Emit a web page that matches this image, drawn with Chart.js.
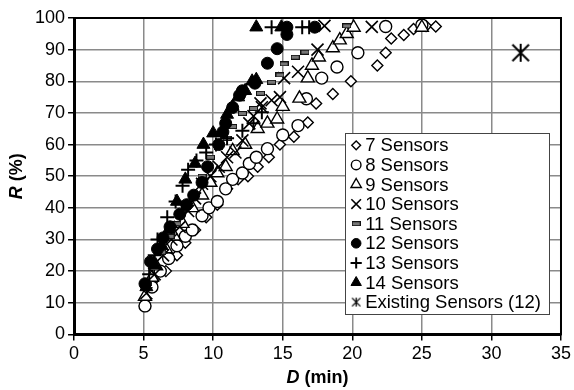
<!DOCTYPE html>
<html>
<head>
<meta charset="utf-8">
<script src="https://cdn.jsdelivr.net/npm/chart.js@4/dist/chart.umd.min.js"></script>
<style>
  html, body { margin: 0; padding: 0; background: #fff; }
</style>
</head>
<body>
<canvas id="chart" width="574" height="390"></canvas>
<script>
// ---- data: [D (min), R (%)] ----
var seriesNames = ["7 Sensors", "8 Sensors", "9 Sensors", "10 Sensors", "11 Sensors",
                   "12 Sensors", "13 Sensors", "14 Sensors", "Existing Sensors (12)"];

var sensors7 = [[5.1,9],[5.7,17],[6.6,20],[7.4,25],[8,29],[8.7,33],[9.5,37],[10.3,41],[11,46],
  [11.8,49],[12.5,50],[13.2,53],[14,56],[14.8,60],[15.8,62.5],[16.8,67],[17.4,73],[18.6,76],
  [19.9,80],[21.8,85],[22.4,89],[22.8,93.5],[23.7,94.6],[24.4,96.5],[25.3,97.5],[26,97.3]];
var sensors8 = [[5.1,9],[5.6,15],[6.2,20],[6.8,24],[7.4,28],[8,31],[8.5,33],[9.2,37.5],[9.7,40],
  [10.3,42],[10.9,46],[11.4,49],[12.1,51],[12.6,54],[13.1,56],[13.9,58.7],[15,63],[16.1,66],
  [16.7,74.5],[17.8,81],[18.9,84.5],[20.4,89],[22.4,97.3],[25,97.8]];
var sensors9 = [[5.1,12],[5.6,18],[5.9,21.6],[6.6,27],[7.2,31],[7.8,35],[8.5,40],[9.2,44],[9.8,48],
  [10.3,51],[10.9,53],[11.4,58],[12.3,60],[13.2,65],[13.9,66.7],[14.6,68],[15,72],[16.2,74.6],
  [16.8,81],[17.1,85],[17.6,87.6],[18.6,90.5],[19.1,93],[19.6,95],[20.1,97],[25,97]];
var sensors10 = [[5.2,13],[5.8,19],[6.4,25],[7,30],[7.6,34],[8.2,39],[8.7,43],[9.2,47.6],[9.8,50],
  [10.4,53],[11,56],[11.6,57.5],[12.1,61.3],[12.6,66.7],[12.9,69],[13.4,73],[13.5,71.8],[14.2,74],
  [14.8,75],[15.1,81],[16.1,83],[17.5,90],[18,97.5],[21.4,97.2]];
var sensors11 = [[5.3,16],[5.8,21],[6.3,26],[6.9,31],[7.4,35],[8,40],[8.6,44],[9.2,50],[9.8,56],
  [10.4,59],[11,62],[11.4,65.7],[12.1,69.8],[12.9,71.4],[13.4,76.2],[14.2,79.7],[14.8,82],
  [15.1,85.5],[15.9,87.6],[16.6,89.2],[19.6,97.5]];
var sensors12 = [[5.1,16],[5.5,23],[6,27],[6.4,30.5],[6.9,34],[7.6,38],[8.1,41],[8.6,44],[9.2,48],
  [9.6,53],[10.4,60],[10.7,64],[10.9,66.7],[11.4,71.7],[11.9,75.6],[12.1,77],[13,79.4],[13.9,85.7],
  [14.6,90.3],[15.3,94.8],[15.3,97.1],[17.3,97.1]];
var sensors13 = [[5.4,19],[5.8,25],[6,30],[6.7,37],[7.3,42],[7.8,47],[8.2,52],[8.8,55],[9.5,57.5],
  [10.2,60],[11,62],[12.1,64.4],[12.9,66.7],[13.5,70.2],[14.2,97.1],[16.4,97.1],[16.9,97.1]];
var sensors14 = [[5.2,15],[5.8,22],[6.3,28],[6.8,33],[7.4,42],[8,49],[8.7,54],[9.3,60],[10,63.6],
  [11,69.5],[11.4,72],[11.8,75],[12.3,77],[12.8,80],[13.1,80.5],[13.1,97.1],[14.9,97.1]];
var existing = [[32.1,89]];

var xTicks = [0, 5, 10, 15, 20, 25, 30, 35];
var yTicks = [0, 10, 20, 30, 40, 50, 60, 70, 80, 90, 100];

// ---- custom marker images ----
function asterisk(size, lw) {
  var c = document.createElement('canvas');
  c.width = size; c.height = size;
  var g = c.getContext('2d');
  var m = size / 2, r = size / 2 - 1, d = r * 0.92;
  g.strokeStyle = '#000'; g.lineWidth = lw;
  g.beginPath();
  g.moveTo(m, m - r); g.lineTo(m, m + r);
  g.moveTo(m - d, m - d); g.lineTo(m + d, m + d);
  g.moveTo(m + d, m - d); g.lineTo(m - d, m + d);
  g.stroke();
  return c;
}
function dash(w, h) {
  var c = document.createElement('canvas');
  c.width = w; c.height = h;
  var g = c.getContext('2d');
  g.fillStyle = '#777'; g.fillRect(0, 0, w, h);
  g.strokeStyle = '#111'; g.lineWidth = 1; g.strokeRect(0.5, 0.5, w - 1, h - 1);
  return c;
}

var styles = [
  { pointStyle: 'rectRot',  radius: 5.5, fill: '#fff', bw: 1.4 },
  { pointStyle: 'circle',   radius: 6,   fill: '#fff', bw: 1.4 },
  { pointStyle: 'triangle', radius: 7.5, fill: '#fff', bw: 1.4 },
  { pointStyle: 'crossRot', radius: 8.5, fill: '#fff', bw: 1.6 },
  { pointStyle: dash(9, 5), radius: 5,   fill: '#fff', bw: 1 },
  { pointStyle: 'circle',   radius: 6,   fill: '#000', bw: 1 },
  { pointStyle: 'cross',    radius: 7,   fill: '#fff', bw: 2 },
  { pointStyle: 'triangle', radius: 7.5, fill: '#000', bw: 1 },
  { pointStyle: asterisk(20, 2), radius: 10, fill: '#fff', bw: 1 }
];
var legendStyles = styles.slice();
legendStyles[8] = { pointStyle: asterisk(11, 1.3), radius: 5, fill: '#fff', bw: 1 };

var allSeries = [sensors7, sensors8, sensors9, sensors10, sensors11,
                 sensors12, sensors13, sensors14, existing];

var datasets = allSeries.map(function (s, i) {
  return {
    label: seriesNames[i],
    data: s.map(function (p) { return { x: p[0], y: p[1] }; }),
    pointStyle: styles[i].pointStyle,
    pointRadius: styles[i].radius,
    pointBackgroundColor: styles[i].fill,
    pointBorderColor: '#000',
    pointBorderWidth: styles[i].bw,
    showLine: false,
    order: allSeries.length - i
  };
});

var FONT = '"Liberation Sans", Arial, sans-serif';

// axis titles with italic variable + frame + boxed legend inside plot
var decorations = {
  id: 'decorations',
  afterDraw: function (chart) {
    var ctx = chart.ctx, a = chart.chartArea;
    ctx.save();

    // frame
    ctx.strokeStyle = '#000';
    ctx.lineWidth = 2;
    ctx.strokeRect(a.left, a.top, a.right - a.left, a.bottom - a.top);

    // axis titles
    function mixed(parts, cx, cy, rot) {
      ctx.save();
      ctx.translate(cx, cy);
      ctx.rotate(rot);
      ctx.fillStyle = '#000';
      ctx.textBaseline = 'middle';
      var w = 0;
      parts.forEach(function (p) { ctx.font = p[1] + ' 18px ' + FONT; w += ctx.measureText(p[0]).width; });
      var x = -w / 2;
      parts.forEach(function (p) {
        ctx.font = p[1] + ' 18px ' + FONT;
        ctx.textAlign = 'left';
        ctx.fillText(p[0], x, 0);
        x += ctx.measureText(p[0]).width;
      });
      ctx.restore();
    }
    mixed([['D', 'italic bold'], [' (min)', 'bold']], (a.left + a.right) / 2, 378, 0);
    mixed([['R', 'italic bold'], [' (%)', 'bold']], 17, (a.top + a.bottom) / 2, -Math.PI / 2);

    // legend box
    var rowH = 19.6, padY = 2.5;
    var legFont = '18.5px ' + FONT;
    ctx.font = legFont;
    var textW = 0;
    seriesNames.forEach(function (n) { textW = Math.max(textW, ctx.measureText(n).width); });
    var boxW = 20 + textW + 8;
    var boxH = rowH * seriesNames.length + padY * 2;
    var right = a.right - 12, bottom = a.bottom - 20;
    var left = right - boxW, top = bottom - boxH;
    ctx.fillStyle = '#fff';
    ctx.fillRect(left, top, boxW, boxH);
    ctx.strokeStyle = '#444';
    ctx.lineWidth = 1;
    ctx.strokeRect(Math.round(left) + 0.5, Math.round(top) + 0.5, Math.round(boxW), Math.round(boxH));

    seriesNames.forEach(function (n, i) {
      var cy = top + padY + rowH * (i + 0.5);
      var st = legendStyles[i];
      ctx.save();
      ctx.fillStyle = st.fill;
      ctx.strokeStyle = '#000';
      ctx.lineWidth = st.bw;
      Chart.helpers.drawPoint(ctx, {
        pointStyle: st.pointStyle,
        radius: st.radius * 0.8,
        rotation: 0,
        borderWidth: st.bw
      }, left + 11, cy);
      ctx.restore();
      ctx.fillStyle = '#000';
      ctx.font = legFont;
      ctx.textAlign = 'left';
      ctx.textBaseline = 'middle';
      ctx.fillText(n, left + 20, cy + 1);
    });
    ctx.restore();
  }
};

new Chart(document.getElementById('chart'), {
  type: 'scatter',
  data: { datasets: datasets },
  options: {
    responsive: false,
    animation: false,
    devicePixelRatio: 1,
    layout: { padding: { left: 32, right: 11, top: 18, bottom: 22 } },
    plugins: {
      legend: { display: false },
      tooltip: { enabled: false }
    },
    scales: {
      x: {
        type: 'linear',
        min: 0, max: 35,
        afterBuildTicks: function (scale) { scale.ticks = xTicks.map(function (v) { return { value: v }; }); },
        ticks: { color: '#000', font: { size: 18, family: FONT }, padding: 3, maxRotation: 0 },
        grid: { color: '#8a8a8a', lineWidth: 1.5, tickLength: 6, tickColor: '#000' },
        border: { color: '#000', width: 3 }
      },
      y: {
        type: 'linear',
        min: 0, max: 100,
        afterBuildTicks: function (scale) { scale.ticks = yTicks.map(function (v) { return { value: v }; }); },
        ticks: { color: '#000', font: { size: 18, family: FONT }, padding: 3 },
        grid: { color: '#8a8a8a', lineWidth: 1.5, tickLength: 6, tickColor: '#000' },
        border: { color: '#000', width: 3 }
      }
    }
  },
  plugins: [decorations]
});
</script>
</body>
</html>
